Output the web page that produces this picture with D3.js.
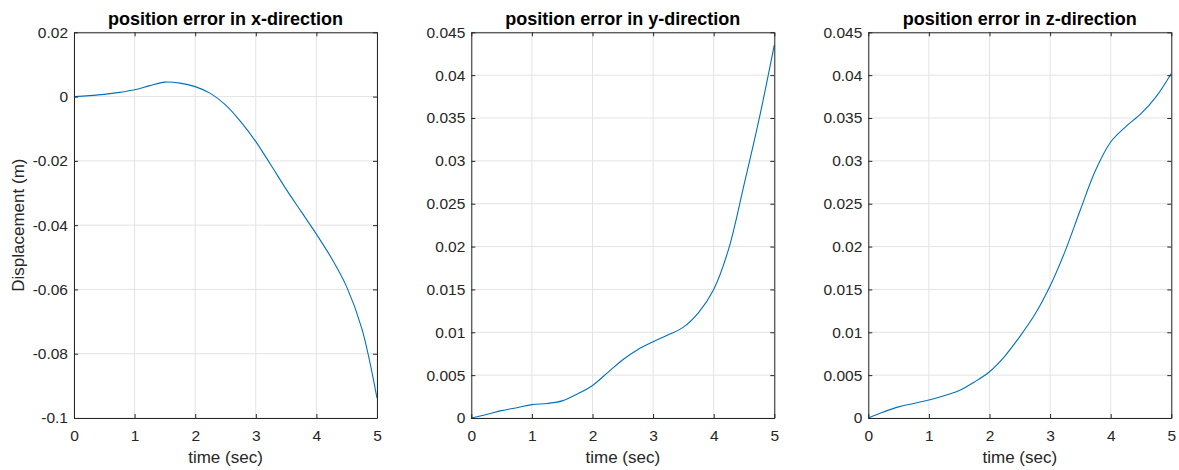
<!DOCTYPE html>
<html><head><meta charset="utf-8">
<script src="https://cdn.jsdelivr.net/npm/d3@7"></script>
<style>html,body{margin:0;padding:0;background:#fff;}svg{display:block;}</style>
</head><body>
<script>
const times = [0,0.25,0.5,0.75,1,1.25,1.5,1.75,2,2.25,2.5,2.75,3,3.25,3.5,3.75,4,4.25,4.5,4.75,5];
const errX = [0,0.0003,0.0007,0.0013,0.0021,0.0034,0.0045,0.0042,0.0031,0.001,-0.0026,-0.0078,-0.014,-0.0213,-0.0288,-0.0358,-0.0428,-0.0503,-0.0592,-0.0722,-0.0938];
const errY = [0,0.0004,0.00086,0.0012,0.00156,0.0017,0.002,0.0028,0.0038,0.0053,0.0068,0.008,0.0089,0.0097,0.0106,0.0123,0.015,0.0198,0.0272,0.0349,0.0435];
const errZ = [0,0.0007,0.0013,0.0017,0.0021,0.0026,0.0032,0.0042,0.0054,0.0072,0.0095,0.0121,0.0154,0.0195,0.0243,0.0289,0.0322,0.034,0.0355,0.0375,0.0402];
const titles = ["position error in x-direction","position error in y-direction","position error in z-direction"];
const xTicks = [0,1,2,3,4,5];
const yTicksX = [-0.1,-0.08,-0.06,-0.04,-0.02,0,0.02];
const yTicksYZ = [0,0.005,0.01,0.015,0.02,0.025,0.03,0.035,0.04,0.045];
const yDomains = [[-0.1,0.02],[0,0.045],[0,0.045]];
const xLabel = "time (sec)";
const yLabel = "Displacement (m)";

(function(){
const W = 1179, H = 470;
const svg = d3.select("body").append("svg").attr("width",W).attr("height",H);
const lefts = [74, 471.3, 868.3];
const pw = 303, pTop = 32.3, pBottom = 418;
const series = [errX, errY, errZ];
const yTickSets = [yTicksX, yTicksYZ, yTicksYZ];
const font = "'Liberation Sans', Arial, Helvetica, sans-serif";
const axCol = "#262626";

series.forEach((vals, i) => {
  const x = d3.scaleLinear().domain([0,5]).range([lefts[i], lefts[i]+pw]);
  const y = d3.scaleLinear().domain(yDomains[i]).range([pBottom, pTop]);
  const g = svg.append("g");
  g.selectAll(".gx").data(xTicks).enter().append("line")
    .attr("x1",d=>x(d)).attr("x2",d=>x(d)).attr("y1",pTop).attr("y2",pBottom)
    .attr("stroke","#e3e3e3").attr("stroke-width",1);
  g.selectAll(".gy").data(yTickSets[i]).enter().append("line")
    .attr("y1",d=>y(d)).attr("y2",d=>y(d)).attr("x1",lefts[i]).attr("x2",lefts[i]+pw)
    .attr("stroke","#e3e3e3").attr("stroke-width",1);
  const line = d3.line().x((d,j)=>x(times[j])).y(d=>y(d)).curve(d3.curveCatmullRom.alpha(0.5));
  g.append("path").datum(vals).attr("d",line).attr("fill","none")
    .attr("stroke","#0072BD").attr("stroke-width",1.1);
  const axB = d3.axisBottom(x).tickValues(xTicks).tickSizeInner(-4).tickSizeOuter(0).tickPadding(12).tickFormat(d3.format("d"));
  const axT = d3.axisTop(x).tickValues(xTicks).tickSizeInner(-4).tickSizeOuter(0).tickFormat("");
  const fmt = d => d === 0 ? "0" : String(+d.toFixed(3));
  const axL = d3.axisLeft(y).tickValues(yTickSets[i]).tickSizeInner(-4).tickSizeOuter(0).tickPadding(6).tickFormat(fmt);
  const axR = d3.axisRight(y).tickValues(yTickSets[i]).tickSizeInner(-4).tickSizeOuter(0).tickFormat("");
  const styleAxis = sel => {
    sel.selectAll("path").attr("stroke",axCol).attr("stroke-width",1);
    sel.selectAll("line").attr("stroke",axCol);
    sel.selectAll("text").attr("fill",axCol).style("font-family",font).style("font-size","15.5px");
  };
  g.append("g").attr("transform",`translate(0,${pBottom})`).call(axB).call(styleAxis);
  g.append("g").attr("transform",`translate(0,${pTop})`).call(axT).call(styleAxis);
  g.append("g").attr("transform",`translate(${lefts[i]},0)`).call(axL).call(styleAxis);
  g.append("g").attr("transform",`translate(${lefts[i]+pw},0)`).call(axR).call(styleAxis);
  g.append("text").attr("x",lefts[i]+pw/2).attr("y",25).attr("text-anchor","middle")
    .style("font-family",font).style("font-size","18px").style("font-weight","bold")
    .attr("fill","#000").text(titles[i]);
  g.append("text").attr("x",lefts[i]+pw/2).attr("y",463).attr("text-anchor","middle")
    .style("font-family",font).style("font-size","17px").attr("fill",axCol).text(xLabel);
});
svg.append("text").attr("transform",`translate(24,${(pTop+pBottom)/2}) rotate(-90)`)
  .attr("text-anchor","middle").style("font-family",font).style("font-size","17px")
  .attr("fill",axCol).text(yLabel);
})();
</script>
</body></html>
